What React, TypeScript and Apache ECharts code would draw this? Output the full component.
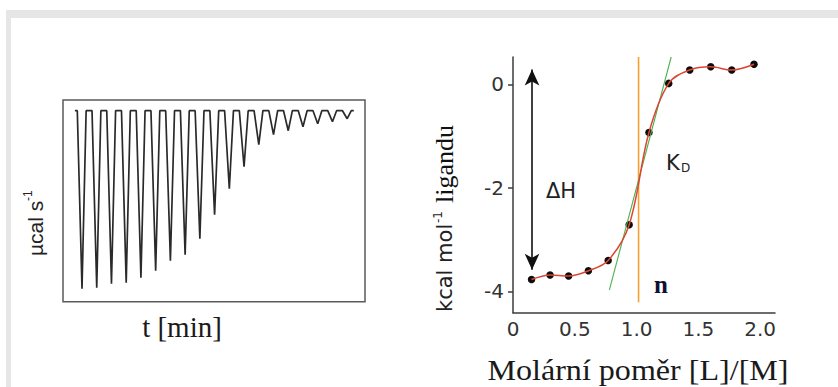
import React, { useEffect, useRef } from "react";
import * as echarts from "echarts";

// ---- Left panel: raw ITC thermogram (peak depths per injection, arbitrary µcal/s units)
const peakDepths = [17.8, 17.7, 17.3, 17.2, 16.7, 16.0, 15.0, 14.4, 12.8, 10.4, 7.8, 5.6, 3.4, 2.4, 2.0, 1.6, 1.3, 1.1, 0.8];
const injectionIndex = peakDepths.map((_, i) => i);

// ---- Right panel: integrated heats
const molarRatio = [0.15, 0.30, 0.45, 0.61, 0.77, 0.94, 1.10, 1.26, 1.43, 1.60, 1.77, 1.95];
const heat = [-3.77, -3.68, -3.70, -3.60, -3.40, -2.71, -0.93, 0.02, 0.28, 0.34, 0.28, 0.39];
const tangentX = [0.78, 1.28];
const tangentY = [-3.97, 0.53];
const stoichN = 1.016;
const stoichLineY = [0.53, -4.21];
const deltaHArrowX = 0.154;
const deltaHArrowY = [0.29, -3.58];
const xTickValues = [0, 0.5, 1.0, 1.5, 2.0];
const yTickValues = [-4, -2, 0];

function buildTrace() {
  const pts: number[][] = [[-0.48, 0]];
  injectionIndex.forEach((t, i) => {
    pts.push([t - 0.32, 0]);
    pts.push([t, -peakDepths[i]]);
    pts.push([t + 0.28, 0]);
  });
  pts.push([injectionIndex[injectionIndex.length - 1] + 0.45, 0]);
  return pts;
}

const txt = (text: string, x: number, y: number, font: string, fill: string, align = "left", extra: any = {}) => ({
  type: "text",
  x,
  y,
  ...extra,
  style: { text, font, fill, align, verticalAlign: "middle" },
});

export default function App() {
  const ref = useRef<HTMLDivElement>(null);
  useEffect(() => {
    if (!ref.current) return;
    const chart = echarts.init(ref.current, null, { renderer: "svg" });
    const fitData = molarRatio.map((x, i) => [x, heat[i]]);
    const option: any = {
      animation: false,
      backgroundColor: "#ffffff",
      grid: [
        { left: 63, top: 100, width: 302, height: 201.7, show: true, borderColor: "#5a5a5a", borderWidth: 1.5, backgroundColor: "transparent" },
        { left: 513, top: 57, width: 262, height: 255.7 },
      ],
      xAxis: [
        { gridIndex: 0, type: "value", min: -1.29, max: 19.21, show: false },
        {
          gridIndex: 1,
          type: "value",
          min: 0,
          max: 2.12,
          axisLine: { show: true, onZero: false, lineStyle: { color: "#3c3c3c", width: 1.5 } },
          axisTick: { show: false },
          splitLine: { show: false },
          axisLabel: {
            customValues: xTickValues,
            formatter: (v: number) => (v === 0 ? "0" : v.toFixed(1)),
            fontFamily: "DejaVu Sans",
            fontSize: 20,
            color: "#333",
            margin: 6,
          },
        },
      ],
      yAxis: [
        { gridIndex: 0, type: "value", min: -19.1, max: 1.07, show: false },
        {
          gridIndex: 1,
          type: "value",
          min: -4.41,
          max: 0.53,
          axisLine: { show: true, onZero: false, lineStyle: { color: "#3c3c3c", width: 1.5 } },
          axisTick: { show: true, customValues: yTickValues, length: 5, lineStyle: { color: "#3c3c3c", width: 1.5 } },
          splitLine: { show: false },
          axisLabel: {
            customValues: yTickValues,
            formatter: (v: number) => String(v),
            fontFamily: "DejaVu Sans",
            fontSize: 20,
            color: "#333",
            margin: 9,
          },
        },
      ],
      series: [
        {
          type: "line",
          xAxisIndex: 0,
          yAxisIndex: 0,
          data: buildTrace(),
          symbol: "none",
          lineStyle: { color: "#2a2a2a", width: 1.7 },
        },
        {
          type: "line",
          xAxisIndex: 1,
          yAxisIndex: 1,
          data: [[stoichN, stoichLineY[0]], [stoichN, stoichLineY[1]]],
          symbol: "none",
          lineStyle: { color: "#f5a030", width: 1.6 },
        },
        {
          type: "line",
          xAxisIndex: 1,
          yAxisIndex: 1,
          data: [[tangentX[0], tangentY[0]], [tangentX[1], tangentY[1]]],
          symbol: "none",
          lineStyle: { color: "#4cb050", width: 1.1 },
        },
        {
          type: "line",
          xAxisIndex: 1,
          yAxisIndex: 1,
          data: fitData,
          smooth: 0.35,
          symbol: "none",
          lineStyle: { color: "#dd4433", width: 1.5 },
        },
        {
          type: "scatter",
          xAxisIndex: 1,
          yAxisIndex: 1,
          data: fitData,
          symbolSize: 7.5,
          itemStyle: { color: "#0d0d0d", opacity: 1 },
          markLine: {
            silent: true,
            symbol: ["arrow", "arrow"],
            symbolSize: [11, 16],
            lineStyle: { color: "#111", width: 1.6, type: "solid" },
            label: { show: false },
            emphasis: { disabled: true },
            data: [[{ coord: [deltaHArrowX, deltaHArrowY[0]] }, { coord: [deltaHArrowX, deltaHArrowY[1]] }]],
          },
        },
      ],
      graphic: [
        { type: "rect", z: -10, shape: { x: 6, y: 10, width: 832, height: 8 }, style: { fill: "#e6e6e6" } },
        { type: "rect", z: -10, shape: { x: 6, y: 10, width: 5, height: 377 }, style: { fill: "#e6e6e6" } },
        {
          type: "group",
          x: 35,
          y: 256,
          rotation: Math.PI / 2,
          children: [
            txt("µcal s", 0, 0, "21px 'Liberation Sans'", "#222"),
            txt("-1", 55, -7, "12px 'Liberation Sans'", "#222"),
          ],
        },
        txt("t [min]", 182, 327, "29px 'Liberation Serif'", "#1a1a1a", "center"),
        {
          type: "group",
          x: 445,
          y: 312,
          rotation: Math.PI / 2,
          children: [
            txt("kcal mol", 0, 0, "21px 'DejaVu Sans'", "#222"),
            txt("-1", 89, -7, "12px 'DejaVu Sans'", "#222"),
            txt("ligandu", 109, -1, "26px 'Liberation Serif'", "#111"),
          ],
        },
        txt("Molární poměr [L]/[M]", 638, 370, "30px 'Liberation Serif'", "#1a1a1a", "center", { scaleX: 1.07 }),
        txt("ΔH", 546, 191, "21px 'DejaVu Sans'", "#222"),
        txt("K", 666, 163, "21px 'DejaVu Sans'", "#222"),
        txt("D", 681, 168, "12px 'DejaVu Sans'", "#222"),
        txt("n", 654, 284, "bold 25px 'Liberation Serif'", "#101030"),
      ],
    };
    chart.setOption(option);
    return () => chart.dispose();
  }, []);
  return (
    <div
      ref={ref}
      style={{ position: "absolute", left: 0, top: 0, width: 838, height: 387 }}
    />
  );
}
